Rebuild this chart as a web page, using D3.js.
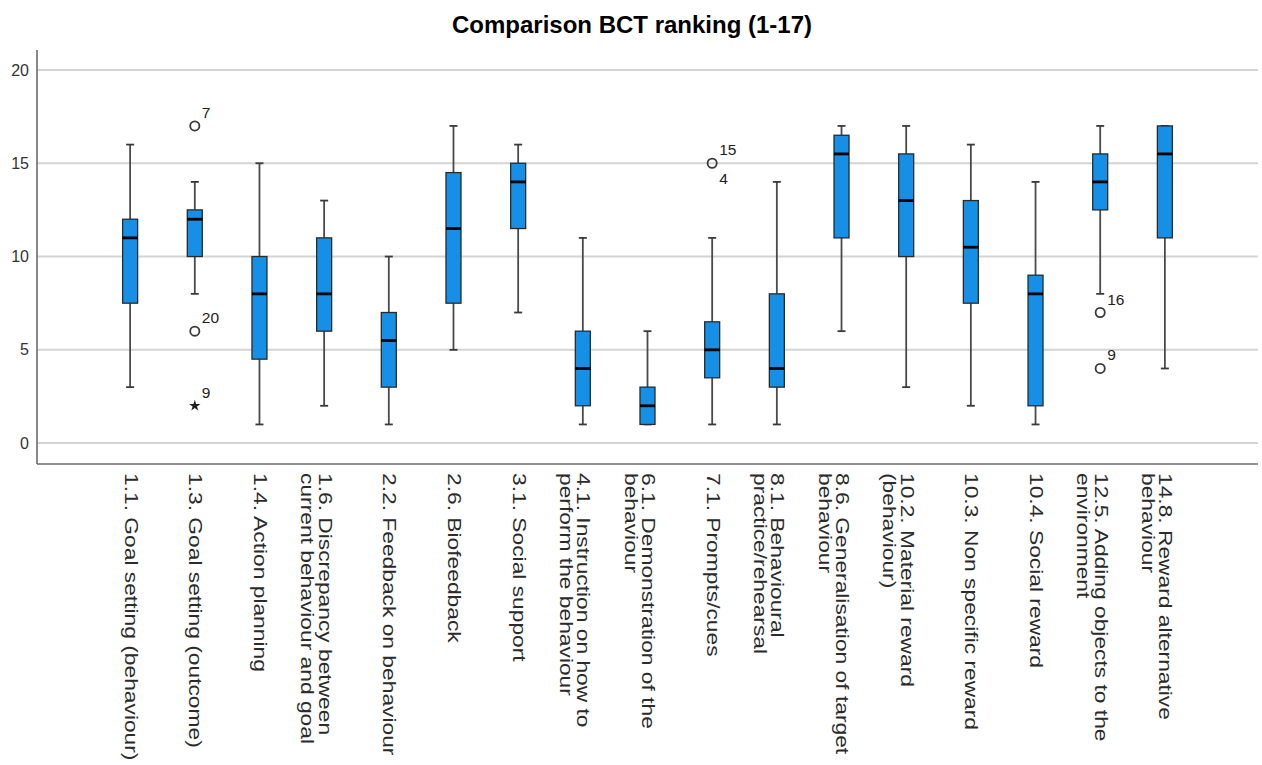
<!DOCTYPE html>
<html>
<head>
<meta charset="utf-8">
<script src="https://cdn.jsdelivr.net/npm/d3@7"></script>
<style>
  html, body { margin: 0; padding: 0; background: #ffffff; }
  svg { display: block; }
</style>
</head>
<body>
<svg id="chart" width="1262" height="765"></svg>
<script>
// Ranking of behaviour change techniques (1 = highest, 17 = lowest)
const categories = [
  "1.1. Goal setting (behaviour)",
  "1.3. Goal setting (outcome)",
  "1.4. Action planning",
  "1.6. Discrepancy between\ncurrent behaviour and goal",
  "2.2. Feedback on behaviour",
  "2.6. Biofeedback",
  "3.1. Social support",
  "4.1. Instruction on how to\nperform the behaviour",
  "6.1. Demonstration of the\nbehaviour",
  "7.1. Prompts/cues",
  "8.1. Behavioural\npractice/rehearsal",
  "8.6. Generalisation of target\nbehaviour",
  "10.2. Material reward\n(behaviour)",
  "10.3. Non specific reward",
  "10.4. Social reward",
  "12.5. Adding objects to the\nenvironment",
  "14.8. Reward alternative\nbehaviour"
];

// Five-number summaries per technique
const whiskerLow  = [3,  8,  1,  2, 1,  5,  7,  1, 1, 1,   1,  6,    3,  2,    1,  8,    4];
const q1          = [7.5, 10, 4.5, 6, 3, 7.5, 11.5, 2, 1, 3.5, 3, 11,   10, 7.5,  2,  12.5, 11];
const median      = [11, 12, 8,  8, 5.5, 11.5, 14, 4, 2, 5,   4,  15.5, 13, 10.5, 8,  14,   15.5];
const q3          = [12, 12.5, 10, 11, 7, 14.5, 15, 6, 3, 6.5, 8, 16.5, 15.5, 13, 9, 15.5, 17];
const whiskerHigh = [16, 14, 15, 13, 10, 17, 16, 11, 6, 11, 14, 17,   17, 16,   14, 17,   17];

// Outlying cases: technique index, value, case label, kind
const outlierCat   = [1, 1, 1, 9, 9, 15, 15];
const outlierValue = [17, 6, 2, 15, 15, 7, 4];
const outlierLabel = ["7", "20", "9", "15", "4", "16", "9"];
const outlierKind  = ["outlier", "outlier", "extreme", "outlier", "outlier", "outlier", "outlier"];

const yTicks = [0, 5, 10, 15, 20];
const chartTitle = "Comparison BCT ranking (1-17)";

// ---- layout ----
const plot = { left: 37, right: 1258, top: 50, bottom: 464 };
const svg = d3.select("#chart");
const FONT = "'Liberation Sans', Arial, sans-serif";

const x = d3.scalePoint()
  .domain(d3.range(categories.length))
  .range([plot.left, plot.right])
  .padding(1.44);

const y = d3.scaleLinear()
  .domain([-1.12, 21.07])
  .range([plot.bottom, plot.top]);

// title
svg.append("text")
  .attr("x", 632)
  .attr("y", 33)
  .attr("text-anchor", "middle")
  .attr("font-family", FONT)
  .attr("font-weight", "bold")
  .attr("font-size", 24)
  .attr("fill", "#000")
  .text(chartTitle);

// horizontal grid lines
svg.append("g")
  .selectAll("line")
  .data(yTicks)
  .join("line")
  .attr("x1", plot.left)
  .attr("x2", plot.right)
  .attr("y1", d => y(d))
  .attr("y2", d => y(d))
  .attr("stroke", "#d4d4d4")
  .attr("stroke-width", 2);

// y axis labels
const yAxis = d3.axisLeft(y).tickValues(yTicks).tickSize(0).tickPadding(8);
const yg = svg.append("g")
  .attr("transform", `translate(${plot.left},0)`)
  .call(yAxis);
yg.select(".domain").remove();
yg.selectAll("text")
  .attr("font-family", FONT)
  .attr("font-size", 16)
  .attr("fill", "#333");

// frame (left and bottom axis lines)
svg.append("line")
  .attr("x1", plot.left).attr("x2", plot.left)
  .attr("y1", plot.top).attr("y2", plot.bottom)
  .attr("stroke", "#6b6b6b").attr("stroke-width", 1.6);
svg.append("line")
  .attr("x1", plot.left).attr("x2", plot.right)
  .attr("y1", plot.bottom).attr("y2", plot.bottom)
  .attr("stroke", "#6b6b6b").attr("stroke-width", 1.6);

// boxes
const boxW = 15;
const capW = 8;
const stats = categories.map((c, i) => ({
  i, lo: whiskerLow[i], q1: q1[i], med: median[i], q3: q3[i], hi: whiskerHigh[i]
}));

const boxes = svg.append("g").selectAll("g")
  .data(stats)
  .join("g")
  .attr("transform", d => `translate(${x(d.i)},0)`);

// whiskers
boxes.append("line")
  .attr("x1", 0).attr("x2", 0)
  .attr("y1", d => y(d.hi)).attr("y2", d => y(d.q3))
  .attr("stroke", "#4a4a4a").attr("stroke-width", 1.8);
boxes.append("line")
  .attr("x1", 0).attr("x2", 0)
  .attr("y1", d => y(d.q1)).attr("y2", d => y(d.lo))
  .attr("stroke", "#4a4a4a").attr("stroke-width", 1.8);
// whisker caps
boxes.append("line")
  .attr("x1", -capW / 2).attr("x2", capW / 2)
  .attr("y1", d => y(d.hi)).attr("y2", d => y(d.hi))
  .attr("stroke", "#3a3a3a").attr("stroke-width", 1.8);
boxes.append("line")
  .attr("x1", -capW / 2).attr("x2", capW / 2)
  .attr("y1", d => y(d.lo)).attr("y2", d => y(d.lo))
  .attr("stroke", "#3a3a3a").attr("stroke-width", 1.8);

// interquartile box
boxes.append("rect")
  .attr("x", -boxW / 2)
  .attr("width", boxW)
  .attr("y", d => y(d.q3))
  .attr("height", d => y(d.q1) - y(d.q3))
  .attr("fill", "#1590e6")
  .attr("stroke", "#2a2a2a")
  .attr("stroke-width", 1.3);

// median
boxes.append("line")
  .attr("x1", -boxW / 2).attr("x2", boxW / 2)
  .attr("y1", d => y(d.med)).attr("y2", d => y(d.med))
  .attr("stroke", "#000").attr("stroke-width", 2.8);

// outliers and their case labels
const outliers = outlierCat.map((c, k) => ({
  c, v: outlierValue[k], label: outlierLabel[k], kind: outlierKind[k]
}));
// stack labels of cases sharing the same position
const seen = new Map();
outliers.forEach(o => {
  const key = o.c + "|" + o.v;
  o.rank = seen.get(key) || 0;
  seen.set(key, o.rank + 1);
});

const og = svg.append("g");
og.selectAll("circle")
  .data(outliers.filter(o => o.kind === "outlier" && o.rank === 0))
  .join("circle")
  .attr("cx", d => x(d.c))
  .attr("cy", d => y(d.v))
  .attr("r", 4.6)
  .attr("fill", "none")
  .attr("stroke", "#3a3a3a")
  .attr("stroke-width", 1.8);

og.selectAll("path")
  .data(outliers.filter(o => o.kind === "extreme"))
  .join("path")
  .attr("transform", d => `translate(${x(d.c)},${y(d.v)})`)
  .attr("d", d3.symbol(d3.symbolStar, 40))
  .attr("fill", "#222");

og.selectAll("text")
  .data(outliers)
  .join("text")
  .attr("x", d => x(d.c) + 7)
  .attr("y", d => d.rank === 0 ? y(d.v) - 8 : y(d.v) + 21)
  .attr("font-family", FONT)
  .attr("font-size", 15.5)
  .attr("fill", "#222")
  .text(d => d.label);

// category labels, rotated to read top to bottom
const labelSize = 19;
const lineGap = 17.5;
const labels = svg.append("g").selectAll("g")
  .data(categories)
  .join("g")
  .attr("transform", (d, i) => `translate(${x(i) + 8},473) rotate(90) scale(1.2,1)`);

labels.each(function(d) {
  const lines = d.split("\n");
  const t = d3.select(this).append("text")
    .attr("font-family", FONT)
    .attr("font-size", labelSize)
    .attr("fill", "#2b2b2b");
  lines.forEach((ln, j) => {
    t.append("tspan")
      .attr("x", 0)
      .attr("y", 13.5 + j * lineGap)
      .text(ln);
  });
});
</script>
</body>
</html>
